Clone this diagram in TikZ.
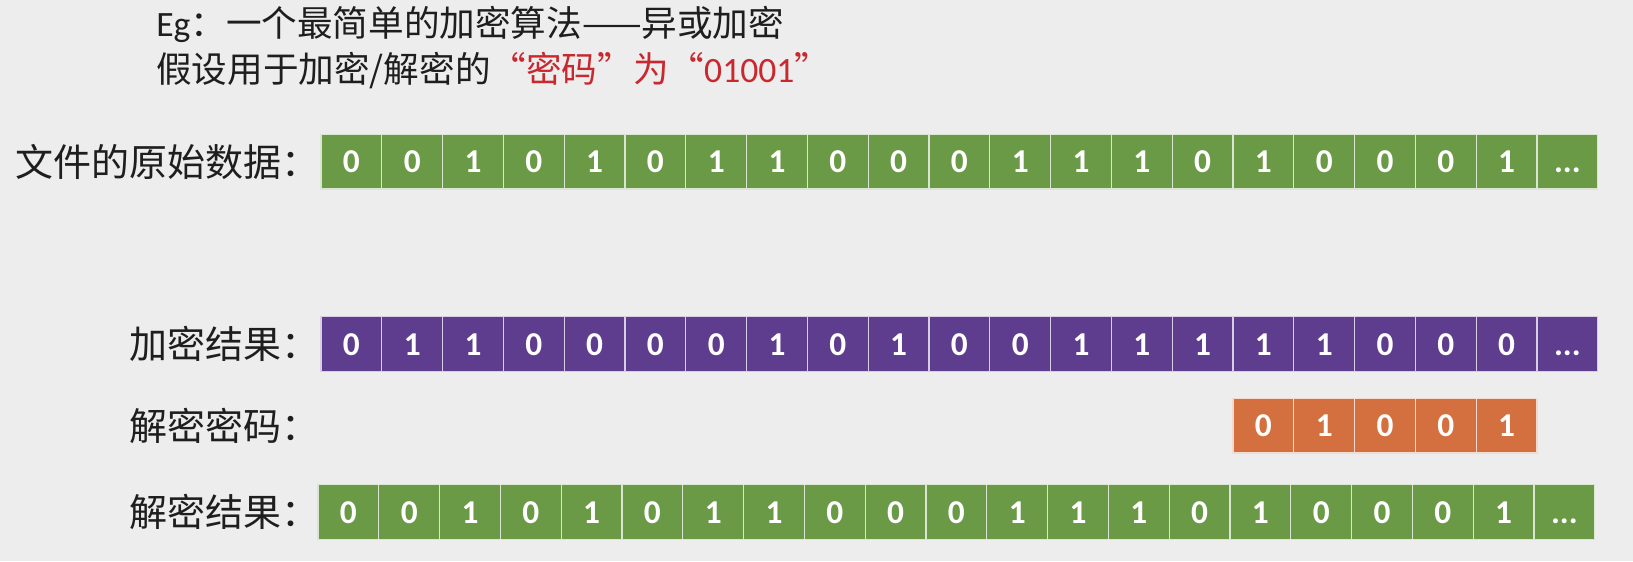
\documentclass[tikz,border=0pt]{standalone}
\usepackage{fontspec}
\setmainfont{Carlito}
\newfontfamily\cjk{Noto Sans CJK SC}
\newcommand\celldots{...}
\definecolor{bg}{HTML}{EDEDED}
\definecolor{gcol}{HTML}{6B9A47}
\definecolor{pcol}{HTML}{5E3C8E}
\definecolor{ocol}{HTML}{D4703F}
\definecolor{redt}{HTML}{C8282E}
\definecolor{txt}{HTML}{1E1E1E}
\tikzset{
  cellbase/.style={minimum width=45.6pt, minimum height=41pt, inner sep=0pt,
    text height=16.5pt, text depth=0pt,
    line width=1pt, text=white, font=\bfseries\fontsize{25}{28}\selectfont},
  gcell/.style={cellbase, fill=gcol, draw=white!75!gcol},
  pcell/.style={cellbase, fill=pcol, draw=white!75!pcol},
  ocell/.style={cellbase, fill=ocol, draw=white!75!ocol},
  rowlabel/.style={anchor=east, inner sep=0pt, text=txt, font=\cjk\fontsize{28.5}{33}\selectfont},
  title/.style={anchor=west, inner sep=0pt, text=txt, font=\fontsize{26.7}{32}\selectfont}
}
\begin{document}
\begin{tikzpicture}[x=0.75pt,y=-0.75pt]
\useasboundingbox[fill=bg] (0,0) rectangle (1633,561);
\node[title] (t1) at (156,24) {Eg{\cjk：一个最简单的加密算法——异或加密}};
\node[title] (t2) at (156,71) {{\cjk 假设用于加密/解密的}\textcolor{redt}{{\cjk “密码”为“}01001{\cjk ”}}};

\node[rowlabel] (l1) at (320,161.5) {文件的原始数据：};
\node[rowlabel] (l2) at (320,344) {加密结果：};
\node[rowlabel] (l3) at (320,425.5) {解密密码：};
\node[rowlabel] (l4) at (320,512) {解密结果：};

\foreach \b [count=\i] in {0,0,1,0,1,0,1,1,0,0,0,1,1,1,0,1,0,0,0,1,\celldots}
  \node[gcell] (a\i) at ({351.4+(\i-1)*60.8},161.5) {\b};
\foreach \b [count=\i] in {0,1,1,0,0,0,0,1,0,1,0,0,1,1,1,1,1,0,0,0,\celldots}
  \node[pcell] (b\i) at ({351.4+(\i-1)*60.8},344) {\b};
\foreach \b [count=\i from 16] in {0,1,0,0,1}
  \node[ocell] (c\i) at ({351.4+(\i-1)*60.8},425.5) {\b};
\foreach \b [count=\i] in {0,0,1,0,1,0,1,1,0,0,0,1,1,1,0,1,0,0,0,1,\celldots}
  \node[gcell] (d\i) at ({348.4+(\i-1)*60.8},512) {\b};
\end{tikzpicture}
\end{document}
